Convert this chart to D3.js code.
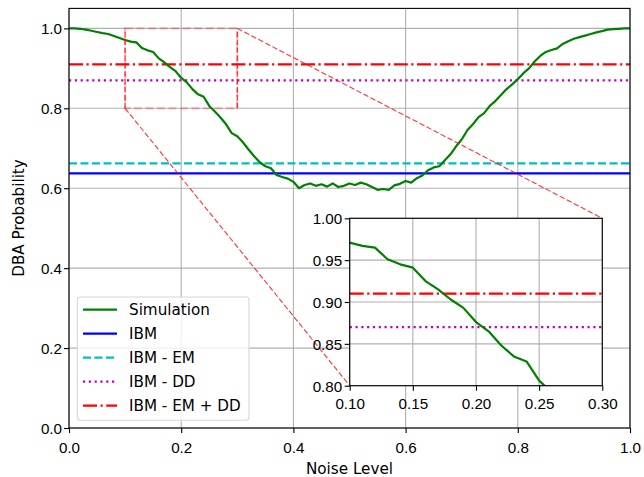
<!DOCTYPE html>
<html>
<head>
<meta charset="utf-8">
<script src="https://cdn.jsdelivr.net/npm/d3@7"></script>
<style>
  body { margin: 0; background: #fff; }
  svg { display: block; font-family: "DejaVu Sans", sans-serif; }
</style>
</head>
<body>
<svg id="chart" width="644" height="477"></svg>
<script>
// noise levels and simulated DBA probability
const noiseLevels = [0.00,0.01,0.02,0.03,0.04,0.05,0.06,0.07,0.08,0.09,
  0.10,0.11,0.12,0.13,0.14,0.15,0.16,0.17,0.18,0.19,
  0.20,0.21,0.22,0.23,0.24,0.25,0.26,0.27,0.28,0.29,
  0.30,0.31,0.32,0.33,0.34,0.35,0.36,0.37,0.38,0.39,
  0.40,0.41,0.42,0.43,0.44,0.45,0.46,0.47,0.48,0.49,
  0.50,0.51,0.52,0.53,0.54,0.55,0.56,0.57,0.58,0.59,
  0.60,0.61,0.62,0.63,0.64,0.65,0.66,0.67,0.68,0.69,
  0.70,0.71,0.72,0.73,0.74,0.75,0.76,0.77,0.78,0.79,
  0.80,0.81,0.82,0.83,0.84,0.85,0.86,0.87,0.88,0.89,
  0.90,0.91,0.92,0.93,0.94,0.95,0.96,0.97,0.98,0.99,1.00];
const simProb = [1.000,1.000,0.999,0.997,0.994,0.991,0.988,0.986,0.981,0.976,
  0.971,0.967,0.965,0.951,0.945,0.941,0.925,0.915,0.903,0.893,
  0.876,0.865,0.848,0.835,0.829,0.806,0.792,0.777,0.760,0.738,
  0.730,0.715,0.697,0.680,0.665,0.655,0.650,0.633,0.628,0.624,
  0.616,0.600,0.608,0.612,0.606,0.610,0.604,0.612,0.603,0.606,
  0.612,0.608,0.614,0.610,0.603,0.596,0.598,0.596,0.607,0.611,
  0.618,0.614,0.625,0.632,0.645,0.652,0.655,0.670,0.685,0.705,
  0.722,0.745,0.760,0.778,0.788,0.806,0.818,0.833,0.848,0.860,
  0.873,0.888,0.900,0.917,0.931,0.941,0.946,0.950,0.961,0.968,
  0.974,0.978,0.982,0.986,0.990,0.993,0.997,0.998,0.999,1.000,1.000];

// constant reference levels
const refNames  = ["IBM", "IBM - EM", "IBM - DD", "IBM - EM + DD"];
const refValues = [0.637, 0.662, 0.870, 0.910];
const refColors = ["#0000ff", "#00bfbf", "#bf00bf", "#ff0000"];
const refDash   = [null, "8 3.5", "2.2 3.6", "14 3.5 2.2 3.5"];

const mainXTicks = [0, 0.2, 0.4, 0.6, 0.8, 1.0];
const mainYTicks = [0, 0.2, 0.4, 0.6, 0.8, 1.0];
const insetXTicks = [0.10, 0.15, 0.20, 0.25, 0.30];
const insetYTicks = [0.80, 0.85, 0.90, 0.95, 1.00];
const zoomBox = { x0: 0.1, x1: 0.3, y0: 0.8, y1: 1.0 };

const svg = d3.select("#chart");
const FS = 15.2;
const LW = 2.2;
const gridColor = "#b0b0b0";

const x = d3.scaleLinear().domain([0, 1]).range([69, 630]);
const y = d3.scaleLinear().domain([0, 1.05]).range([428, 8.4]);

const xi = d3.scaleLinear().domain([zoomBox.x0, zoomBox.x1]).range([349.7, 602.3]);
const yi = d3.scaleLinear().domain([zoomBox.y0, zoomBox.y1]).range([385.7, 218.3]);

function drawGrid(g, sx, sy, xt, yt) {
  const [x0, x1] = sx.range();
  const [y0, y1] = sy.range();
  g.append("g").selectAll("line").data(xt).join("line")
    .attr("x1", d => sx(d)).attr("x2", d => sx(d))
    .attr("y1", y0).attr("y2", y1)
    .attr("stroke", gridColor).attr("stroke-width", 1.1);
  g.append("g").selectAll("line").data(yt).join("line")
    .attr("x1", x0).attr("x2", x1)
    .attr("y1", d => sy(d)).attr("y2", d => sy(d))
    .attr("stroke", gridColor).attr("stroke-width", 1.1);
}

function drawTicks(g, sx, sy, xt, yt, fmt, xBase, yOff) {
  const [x0] = sx.range();
  const [y0] = sy.range();
  const ax = g.append("g")
    .attr("transform", `translate(0,${y0})`)
    .call(d3.axisBottom(sx).tickValues(xt).tickFormat(fmt).tickSize(5).tickPadding(0));
  ax.select(".domain").remove();
  ax.selectAll("line").attr("stroke", "#000").attr("stroke-width", 1.1);
  ax.selectAll("text").attr("font-size", FS).attr("fill", "#000")
    .attr("y", xBase).attr("dy", 0);

  const ay = g.append("g")
    .attr("transform", `translate(${x0},0)`)
    .call(d3.axisLeft(sy).tickValues(yt).tickFormat(fmt).tickSize(5).tickPadding(0));
  ay.select(".domain").remove();
  ay.selectAll("line").attr("stroke", "#000").attr("stroke-width", 1.1);
  ay.selectAll("text").attr("font-size", FS).attr("fill", "#000")
    .attr("x", -yOff).attr("dy", 5.5);
}

function drawFrame(g, sx, sy) {
  const [x0, x1] = sx.range();
  const [y0, y1] = sy.range();
  g.append("rect")
    .attr("x", x0).attr("y", y1)
    .attr("width", x1 - x0).attr("height", y0 - y1)
    .attr("fill", "none").attr("stroke", "#000").attr("stroke-width", 1.1);
}

// ---------- main axes ----------
const main = svg.append("g");
drawGrid(main, x, y, mainXTicks, mainYTicks);

const line = d3.line().x((d, i) => x(noiseLevels[i])).y(d => y(d));

refValues.forEach((v, i) => {
  main.append("line")
    .attr("x1", x(0)).attr("x2", x(1))
    .attr("y1", y(v)).attr("y2", y(v))
    .attr("stroke", refColors[i]).attr("stroke-width", LW)
    .attr("stroke-dasharray", refDash[i]);
});

main.append("path")
  .datum(simProb)
  .attr("fill", "none")
  .attr("stroke", "#008000")
  .attr("stroke-width", LW)
  .attr("stroke-linejoin", "round")
  .attr("d", line);

// zoom indicator
main.append("rect")
  .attr("x", x(zoomBox.x0)).attr("y", y(zoomBox.y1))
  .attr("width", x(zoomBox.x1) - x(zoomBox.x0))
  .attr("height", y(zoomBox.y0) - y(zoomBox.y1))
  .attr("fill", "none").attr("stroke", "#ff0000").attr("stroke-opacity", 0.25)
  .attr("stroke-width", LW).attr("stroke-dasharray", "8 3.5");

[zoomBox.x0, zoomBox.x1].forEach(v => {
  main.append("line")
    .attr("x1", x(v)).attr("x2", x(v))
    .attr("y1", y(zoomBox.y0)).attr("y2", y(zoomBox.y1))
    .attr("stroke", "#ff0000").attr("stroke-opacity", 0.8)
    .attr("stroke-width", 1.3).attr("stroke-dasharray", "5.5 2.4");
});

const connectors = [
  [x(zoomBox.x0), y(zoomBox.y0), xi.range()[0], yi.range()[0]],
  [x(zoomBox.x1), y(zoomBox.y1), xi.range()[1], yi.range()[1]]
];
main.append("g").selectAll("line").data(connectors).join("line")
  .attr("x1", d => d[0]).attr("y1", d => d[1])
  .attr("x2", d => d[2]).attr("y2", d => d[3])
  .attr("stroke", "#ff0000").attr("stroke-opacity", 0.8)
  .attr("stroke-width", 1.1).attr("stroke-dasharray", "5.5 2.4");

drawFrame(main, x, y);
drawTicks(main, x, y, mainXTicks, mainYTicks, d3.format(".1f"), 24.5, 7);

// axis labels
svg.append("text")
  .attr("x", 349.5).attr("y", 473.5)
  .attr("text-anchor", "middle")
  .attr("font-size", FS)
  .text("Noise Level");

svg.append("text")
  .attr("transform", "translate(24,218) rotate(-90)")
  .attr("text-anchor", "middle")
  .attr("font-size", FS)
  .text("DBA Probability");

// ---------- legend ----------
const legendNames  = ["Simulation"].concat(refNames);
const legendColors = ["#008000"].concat(refColors);
const legendDash   = [null].concat(refDash);

const legend = svg.append("g");
legend.append("rect")
  .attr("x", 77.3).attr("y", 297)
  .attr("width", 171.7).attr("height", 123.3)
  .attr("rx", 3)
  .attr("fill", "#fff").attr("fill-opacity", 0.8)
  .attr("stroke", "#d6d6d6").attr("stroke-width", 1.1);

legendNames.forEach((name, i) => {
  const cy = 309.7 + i * 24;
  legend.append("line")
    .attr("x1", 83).attr("x2", 117)
    .attr("y1", cy).attr("y2", cy)
    .attr("stroke", legendColors[i]).attr("stroke-width", LW)
    .attr("stroke-dasharray", legendDash[i]);
  legend.append("text")
    .attr("x", 129).attr("y", cy + 5.5)
    .attr("font-size", FS)
    .text(name);
});

// ---------- inset axes ----------
const inset = svg.append("g");
inset.append("rect")
  .attr("x", xi.range()[0]).attr("y", yi.range()[1])
  .attr("width", xi.range()[1] - xi.range()[0])
  .attr("height", yi.range()[0] - yi.range()[1])
  .attr("fill", "#fff");

svg.append("defs").append("clipPath").attr("id", "insetClip")
  .append("rect")
  .attr("x", xi.range()[0]).attr("y", yi.range()[1])
  .attr("width", xi.range()[1] - xi.range()[0])
  .attr("height", yi.range()[0] - yi.range()[1]);

drawGrid(inset, xi, yi, insetXTicks, insetYTicks);

const plotIn = inset.append("g").attr("clip-path", "url(#insetClip)");
refValues.forEach((v, i) => {
  plotIn.append("line")
    .attr("x1", xi(zoomBox.x0)).attr("x2", xi(zoomBox.x1))
    .attr("y1", yi(v)).attr("y2", yi(v))
    .attr("stroke", refColors[i]).attr("stroke-width", LW)
    .attr("stroke-dasharray", refDash[i]);
});

const lineIn = d3.line().x((d, i) => xi(noiseLevels[i])).y(d => yi(d));
plotIn.append("path")
  .datum(simProb)
  .attr("fill", "none")
  .attr("stroke", "#008000")
  .attr("stroke-width", LW)
  .attr("stroke-linejoin", "round")
  .attr("d", lineIn);

drawFrame(inset, xi, yi);
drawTicks(inset, xi, yi, insetXTicks, insetYTicks, d3.format(".2f"), 23.8, 7.5);
</script>
</body>
</html>
